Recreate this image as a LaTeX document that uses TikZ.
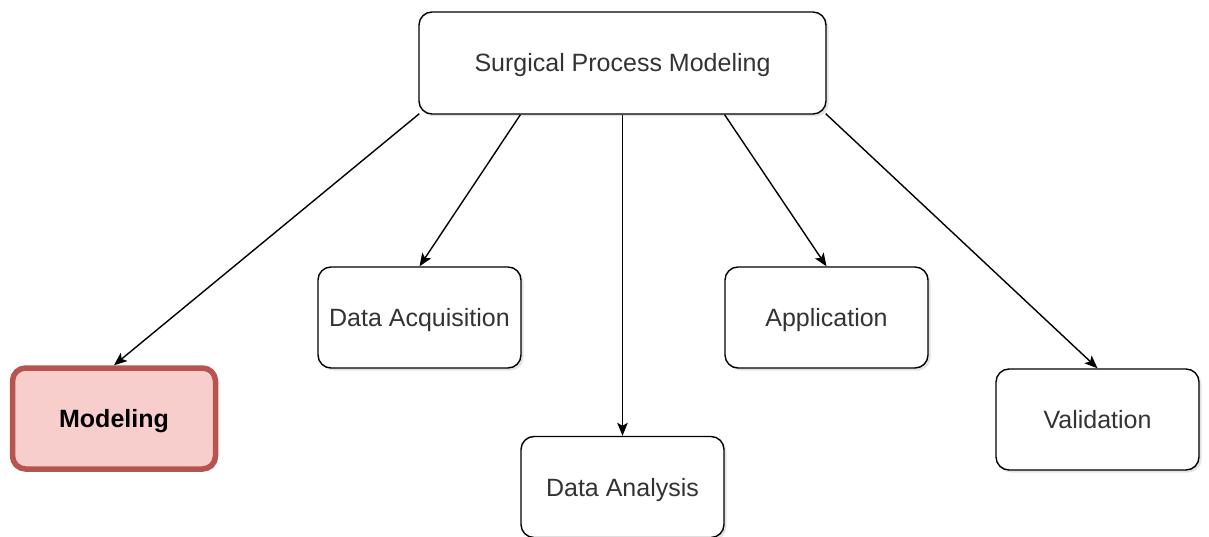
\documentclass[tikz,border=0pt]{standalone}
\usepackage{fontspec}
\setmainfont{Liberation Sans}
\usetikzlibrary{arrows.meta,calc,shadows}
\definecolor{txt}{HTML}{333333}
\definecolor{redfill}{HTML}{F8CECC}
\definecolor{redline}{HTML}{B85450}
\tikzset{
  box/.style={draw=black, line width=1.4pt, rounded corners=13pt, fill=white,
    minimum width=203pt, minimum height=101pt, inner sep=0pt, text=txt,
    text height=18pt, text depth=0pt,
    font=\fontsize{25}{28}\selectfont,
    drop shadow={shadow xshift=2.5pt, shadow yshift=-2.5pt, opacity=0.18, fill=black!60}},
  hot/.style={box, draw=redline, fill=redfill, line width=5.5pt, text=black,
    font=\fontsize{25}{28}\selectfont\bfseries},
  conn/.style={draw=black, line width=1.4pt, -{Stealth[length=13pt,width=10.5pt,inset=3pt]}}
}
\begin{document}
\begin{tikzpicture}[x=1pt,y=-1pt]
\useasboundingbox (0,0) rectangle (1209,537);
\node[box, minimum width=407pt, minimum height=102pt] (top) at (622.5,63) {Surgical Process Modeling};
\node[hot] (mod) at (114,418.5) {Modeling};
\node[box] (acq) at (419.5,317.5) {Data Acquisition};
\node[box] (ana) at (622.5,487) {Data Analysis};
\node[box] (app) at (826.5,317.5) {Application};
\node[box] (val) at (1097.5,419.5) {Validation};
\coordinate (s1) at ($(top.south west)+(1,-1)$);
\coordinate (s2) at ($(top.south)!0.5!(top.south west)$);
\coordinate (s4) at ($(top.south)!0.5!(top.south east)$);
\coordinate (s5) at ($(top.south east)+(-1,-1)$);
\draw[conn] (s1) -- (mod.north);
\draw[conn] (s2) -- (acq.north);
\draw[conn] (top.south) -- (ana.north);
\draw[conn] (s4) -- (app.north);
\draw[conn] (s5) -- (val.north);
\end{tikzpicture}
\end{document}
